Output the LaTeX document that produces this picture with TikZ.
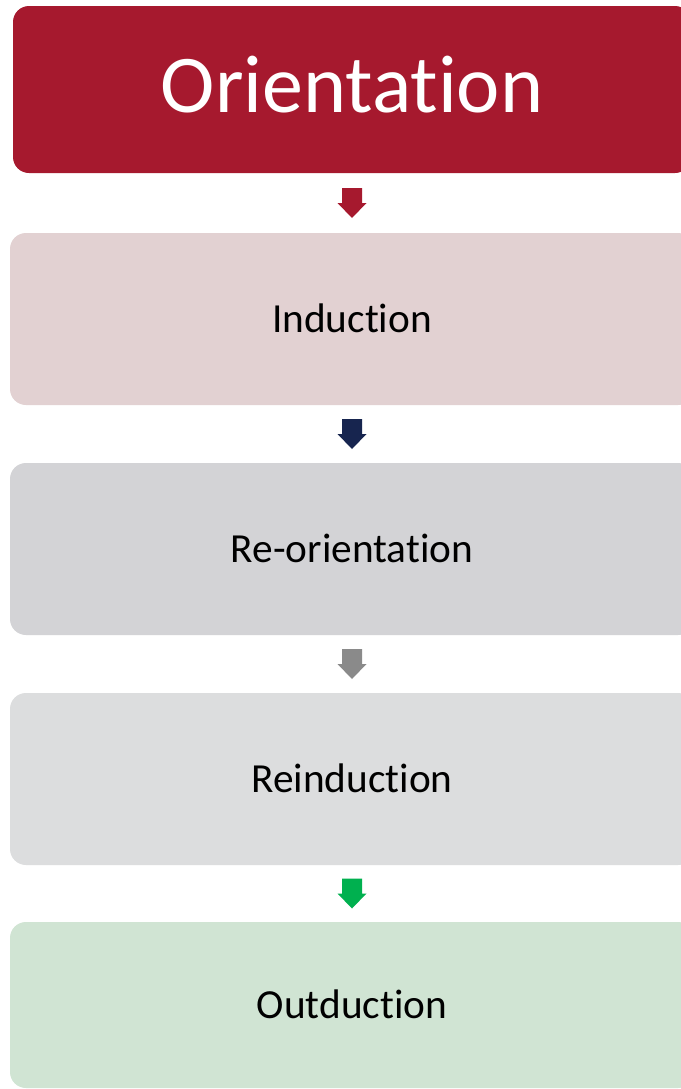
\documentclass[tikz,border=0pt]{standalone}
\usepackage{fontspec}
\setmainfont[RawFeature={-liga;-dlig;-clig;-calt}]{Carlito}
\usetikzlibrary{calc}
\definecolor{orRed}{HTML}{A6192E}
\definecolor{indPink}{HTML}{E2D1D2}
\definecolor{reoGrey}{HTML}{D3D3D6}
\definecolor{reiGrey}{HTML}{DCDDDE}
\definecolor{outGreen}{HTML}{D0E4D3}
\definecolor{arNavy}{HTML}{17254F}
\definecolor{arGrey}{HTML}{8A8A8A}
\definecolor{arGreen}{HTML}{00B04F}
\begin{document}
\begin{tikzpicture}[x=0.75pt,y=-0.75pt,
  box/.style={rectangle, rounded corners=12pt, minimum width=513pt, inner sep=0pt,
    text depth=0pt, text height=19.5pt, font=\fontsize{31}{37}\selectfont, text=black},
  titlebox/.style={box, minimum width=508.5pt, fill=orRed, text=white, text height=33.75pt,
    font=\fontsize{61.5}{70}\selectfont},
  dnarrow/.pic={\fill (-10,-15) -- (10,-15) -- (10,0) -- (14.5,0) -- (0,15) -- (-14.5,0) -- (-10,0) -- cycle;}]
\useasboundingbox (0,0) rectangle (681,1089);
\clip (0,0) rectangle (681,1089);
\fill[white] (0,0) rectangle (681,1089);
\node[titlebox, minimum height=125.25pt] (b1) at (352,89.5) {Orientation};
\node[box, fill=indPink, minimum height=129pt] (b2) at (352,319) {Induction};
\node[box, fill=reoGrey, minimum height=129pt] (b3) at (352,549) {Re-orientation};
\node[box, fill=reiGrey, minimum height=129pt] (b4) at (352,779) {Reinduction};
\node[box, fill=outGreen, minimum height=124.5pt] (b5) at (352,1005) {Outduction};
\pic[fill=orRed] at ($(b1.south)!0.5!(b2.north)$) {dnarrow};
\pic[fill=arNavy] at ($(b2.south)!0.5!(b3.north)$) {dnarrow};
\pic[fill=arGrey] at ($(b3.south)!0.5!(b4.north)$) {dnarrow};
\pic[fill=arGreen] at ($(b4.south)!0.5!(b5.north)$) {dnarrow};
\end{tikzpicture}
\end{document}
